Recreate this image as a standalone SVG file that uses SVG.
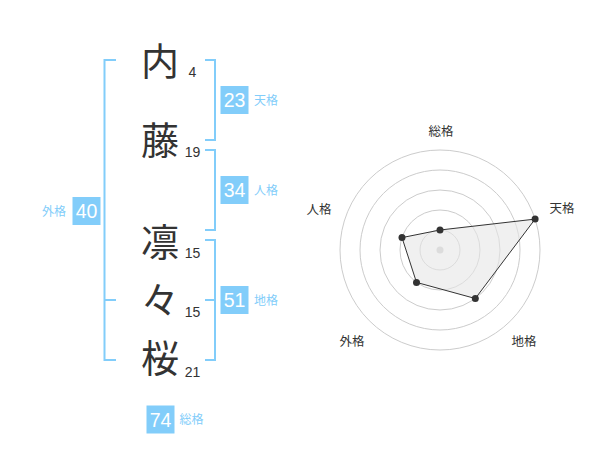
<svg xmlns="http://www.w3.org/2000/svg" width="600" height="470" viewBox="0 0 600 470">
<style>
.ch{font-family:"Noto Sans CJK JP","Noto Sans CJK SC",sans-serif;font-size:38px;fill:#333;text-anchor:middle}
.st{font-family:"Liberation Sans",Arial,sans-serif;font-size:14px;fill:#333;text-anchor:middle}
.bx{fill:#82cdfa}
.bn{font-family:"Liberation Sans",Arial,sans-serif;font-size:19.5px;fill:#fff;text-anchor:middle}
.bl{font-family:"Noto Sans CJK JP","Noto Sans CJK SC",sans-serif;font-size:12px;fill:#82cdfa}
.br{fill:none;stroke:#82cdfa;stroke-width:2}
.grid{fill:none;stroke:#cccccc;stroke-width:1}
.rl{font-family:"Noto Sans CJK JP","Noto Sans CJK SC",sans-serif;font-size:12.5px;fill:#333;text-anchor:middle}
.pt{fill:#333}
</style>
<rect width="600" height="470" fill="#fff"/>
<g id="connectors">
<path class="br" d="M116,60 H104.5 V360 H116 M104.5,300 H116"/>
<path class="br" d="M205,60 H215 V140 H205"/>
<path class="br" d="M205,150 H215 V230 H205"/>
<path class="br" d="M205,240 H215 V360 H205 M205,300 H215"/>
</g>
<g id="char-1"><text class="ch" x="160" y="75">内</text><text class="st" x="192.5" y="77.3">4</text></g>
<g id="char-2"><text class="ch" x="160" y="154">藤</text><text class="st" x="192.5" y="157">19</text></g>
<g id="char-3"><text class="ch" x="160" y="255.5">凛</text><text class="st" x="192.5" y="257.7">15</text></g>
<g id="char-4"><text class="ch" x="160" y="314">々</text><text class="st" x="192.5" y="317">15</text></g>
<g id="char-5"><text class="ch" x="160" y="371.5">桜</text><text class="st" x="192.5" y="376.7">21</text></g>
<g id="tenkaku"><rect class="bx" x="220.5" y="86" width="28" height="28"/><text class="bn" x="234.5" y="107">23</text><text class="bl" x="254" y="104.5">天格</text></g>
<g id="jinkaku"><rect class="bx" x="220.5" y="176" width="28" height="28"/><text class="bn" x="234.5" y="197">34</text><text class="bl" x="254" y="194.5">人格</text></g>
<g id="chikaku"><rect class="bx" x="220.5" y="286" width="28" height="28"/><text class="bn" x="234.5" y="307">51</text><text class="bl" x="254" y="304.5">地格</text></g>
<g id="gaikaku"><rect class="bx" x="72.5" y="197" width="28" height="28"/><text class="bn" x="86.5" y="218">40</text><text class="bl" x="66" y="215.5" text-anchor="end">外格</text></g>
<g id="soukaku"><rect class="bx" x="146.5" y="405.5" width="28" height="28"/><text class="bn" x="160.5" y="426.5">74</text><text class="bl" x="179.5" y="424">総格</text></g>
<g id="radar">
<circle class="grid" cx="440" cy="250" r="20"/>
<circle class="grid" cx="440" cy="250" r="40"/>
<circle class="grid" cx="440" cy="250" r="60"/>
<circle class="grid" cx="440" cy="250" r="80"/>
<circle class="grid" cx="440" cy="250" r="100"/>
<circle cx="440" cy="250" r="3.5" fill="#cccccc"/>
<polygon points="440,230 535.1,219.1 475.3,298.5 416.5,282.4 402,237.6" fill="#e6e6e6" fill-opacity="0.6" stroke="#333" stroke-width="1"/>
<circle class="pt" cx="440" cy="230" r="3.5"/>
<circle class="pt" cx="535.1" cy="219.1" r="3.5"/>
<circle class="pt" cx="475.3" cy="298.5" r="3.5"/>
<circle class="pt" cx="416.5" cy="282.4" r="3.5"/>
<circle class="pt" cx="402" cy="237.6" r="3.5"/>
<text class="rl" x="441" y="135.5">総格</text>
<text class="rl" x="562" y="213">天格</text>
<text class="rl" x="319" y="214">人格</text>
<text class="rl" x="352" y="346">外格</text>
<text class="rl" x="524" y="346">地格</text>
</g>
</svg>
